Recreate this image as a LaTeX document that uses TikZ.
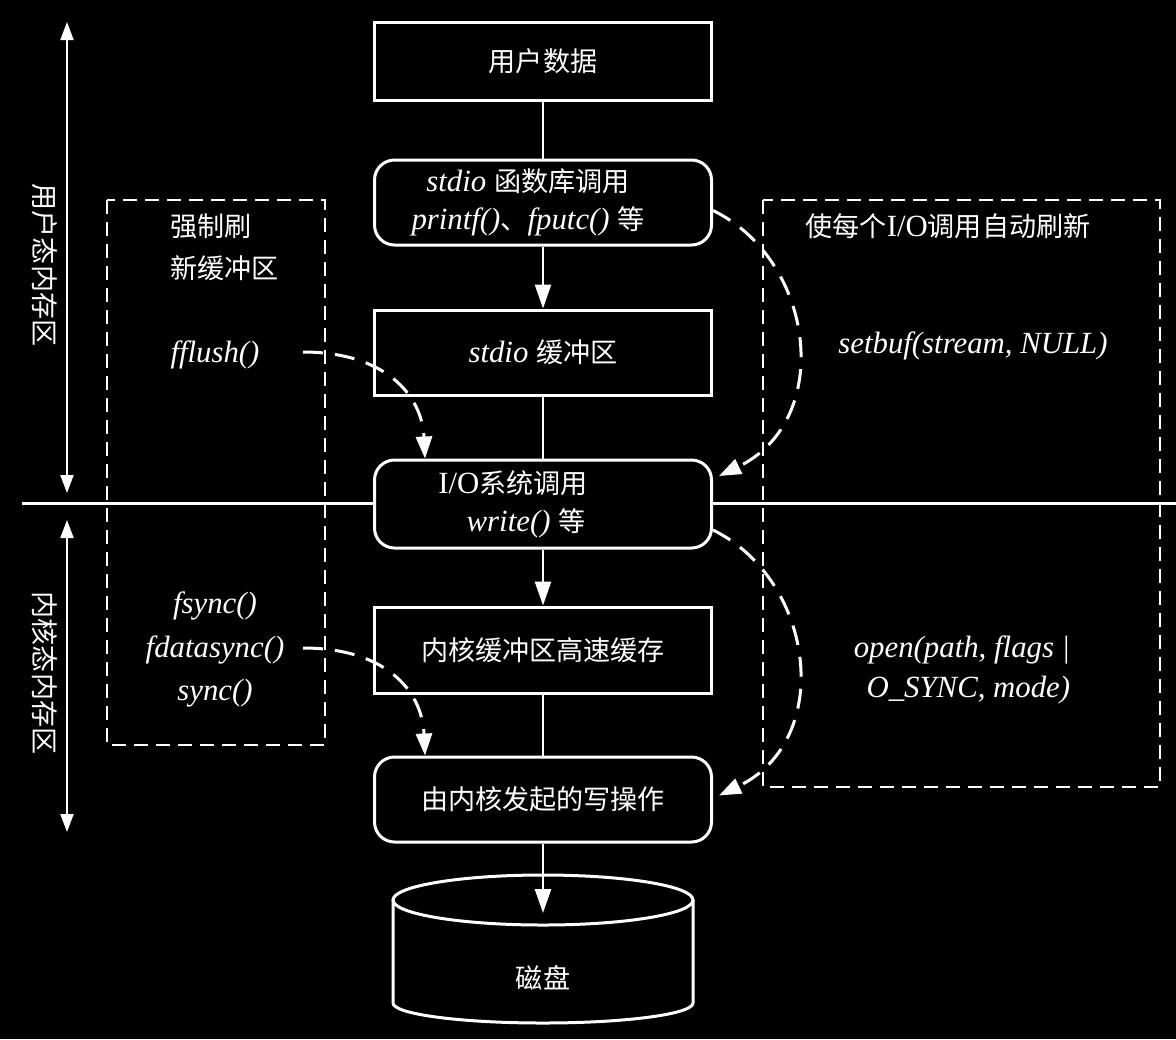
\documentclass[tikz,border=0pt]{standalone}
\usepackage{fontspec}
\setmainfont{Liberation Serif}
\newfontfamily\cjk[Scale=0.88]{Noto Sans CJK SC}
\usetikzlibrary{arrows.meta}
\newcommand\zh[1]{{\cjk #1}}
\begin{document}
\begin{tikzpicture}[x=0.5pt,y=-0.5pt,
  every node/.style={text=white, inner sep=2pt, font=\fontsize{15.4}{19}\selectfont},
  box/.style={draw=white, line width=1.5pt, fill=black, minimum width=168.5pt, inner sep=0pt, align=center},
  rbox/.style={box, rounded corners=10pt},
  flow/.style={draw=white, line width=1.3pt},
  tip/.style={-{Triangle[length=12pt,width=8pt]}},
  dashbox/.style={draw=white, line width=1.2pt, dash pattern=on 7pt off 4pt},
  darrow/.style={draw=white, line width=1.5pt, dash pattern=on 10pt off 6pt, -{Triangle[length=11pt,width=8pt]}},
  span/.style={draw=white, line width=1pt, {Triangle[length=9pt,width=6.5pt]}-{Triangle[length=9pt,width=6.5pt]}},
]
\fill[black] (0,0) rectangle (1176,1039);
\useasboundingbox (0,0) rectangle (1176,1039);

% divider line
\coordinate (hl) at (22,503);
\coordinate (hr) at (1176,503);
\draw[white, line width=1.5pt] (hl) -- (hr);

% left spans
\coordinate (ua) at (67,22);
\coordinate (ub) at (67,493);
\coordinate (ka) at (67,520);
\coordinate (kb) at (67,832);
\draw[span] (ua) -- (ub);
\draw[span] (ka) -- (kb);
\node[rotate=-90] (ul) at (45,265) {\zh{用户态内存区}};
\node[rotate=-90] (kl) at (45,673) {\zh{内核态内存区}};

% dashed boxes
\draw[dashbox] (107,200) rectangle (325,745);
\draw[dashbox] (763,200) rectangle (1160,787);

% main column
\node[box, minimum height=39pt] (u) at (543,61) {\zh{用户数据}};
\node[rbox, minimum height=42.5pt] (s) at (543,202.5) {\textit{stdio} \zh{函数库调用}\rule{15pt}{0pt}\\\textit{printf()}\zh{、}\textit{fputc()} \zh{等}\rule{15pt}{0pt}};
\node[box, minimum height=42.5pt] (b) at (543,352.5) {\textit{stdio} \zh{缓冲区}};
\node[rbox, minimum height=44pt] (io) at (543,504) {I/O\zh{系统调用}\rule{30pt}{0pt}\\\textit{write()} \zh{等}\rule{17pt}{0pt}};
\node[box, minimum height=43pt] (k) at (543,650) {\zh{内核缓冲区高速缓存}};
\node[rbox, minimum height=42.5pt] (w) at (543,799.5) {\zh{由内核发起的写操作}};

% disk
\draw[white, line width=1.5pt] (393,900) -- (393,1003) arc[start angle=180, end angle=360, x radius=75pt, y radius=10pt] -- (693,900);
\draw[white, line width=1.5pt] (543,900) ellipse [x radius=75pt, y radius=12.5pt];
\node (disk) at (543,978) {\zh{磁盘}};
\coordinate (dtop) at (543,913);

% main flow
\draw[flow] (u) -- (s);
\draw[flow, tip] (s) -- (b);
\draw[flow] (b) -- (io);
\draw[flow, tip] (io) -- (k);
\draw[flow] (k) -- (w);
\draw[flow, tip] (w) -- (dtop);

% left texts
\node[anchor=west] (t1) at (166,226) {\zh{强制刷}};
\node[anchor=west] (t2) at (166,268) {\zh{新缓冲区}};
\node (ff) at (215,355) {\textit{fflush()}};
\node (fs1) at (215,606) {\textit{fsync()}};
\node (fs2) at (215,650) {\textit{fdatasync()}};
\node (fs3) at (215,693) {\textit{sync()}};

% right texts
\node (rt) at (948,226) {\zh{使每个}I/O\zh{调用自动刷新}};
\node (sb) at (973,346) {\textit{setbuf(stream, NULL)}};
\node[align=right, font=\fontsize{15.4}{20}\selectfont] (op) at (962,670) {\textit{open(path, flags |}\\\textit{O\_SYNC, mode)}};

% dashed arrows
\coordinate (ffs) at (303,352);
\coordinate (fse) at (303,648);
\draw[darrow] (ffs) .. controls (385,352) and (422,395) .. ([xshift=-59pt]io.north);
\draw[darrow] (fse) .. controls (385,648) and (422,690) .. ([xshift=-59pt]w.north);
\draw[darrow] ([yshift=-4pt]s.east) .. controls (815,260) and (835,420) .. ([xshift=3pt,yshift=14pt]io.east);
\draw[darrow] ([yshift=-13pt]io.east) .. controls (815,580) and (835,740) .. ([xshift=3pt,yshift=2pt]w.east);
\end{tikzpicture}
\end{document}
